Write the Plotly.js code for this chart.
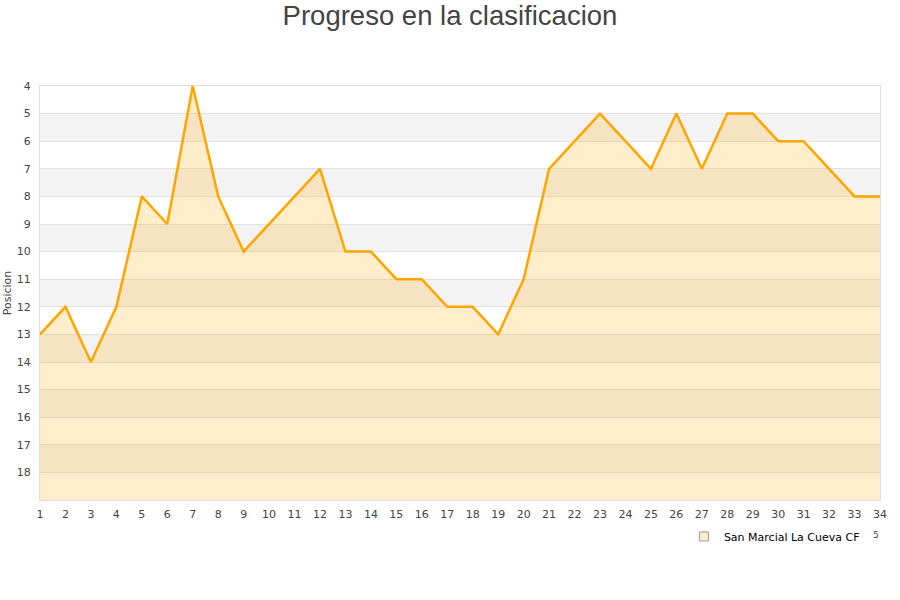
<!DOCTYPE html>
<html><head><meta charset="utf-8">
<script src="https://cdn.plot.ly/plotly-3.0.1.min.js"></script>
<style>body{margin:0;background:#fff}#c{width:900px;height:600px}</style>
</head><body><div id="c"></div>
<script>
const jornadas = [1,2,3,4,5,6,7,8,9,10,11,12,13,14,15,16,17,18,19,20,21,22,23,24,25,26,27,28,29,30,31,32,33,34];
const posiciones = [13,12,14,12,8,9,4,8,10,9,8,7,10,10,11,11,12,12,13,11,7,6,5,6,7,5,7,5,5,6,6,7,8,8];
const teamName = 'San Marcial La Cueva CF';
const yTicks = [4,5,6,7,8,9,10,11,12,13,14,15,16,17,18];
const bandStarts = [5,7,9,11,13,15,17];
const bottomPos = 19;

const baseline = jornadas.map(() => bottomPos);
const shapes = bandStarts.map(b => ({type:'rect', xref:'paper', x0:0, x1:1, yref:'y', y0:b, y1:b+1,
  fillcolor:'#f3f3f3', line:{width:0}, layer:'below'}));

const traces = [
  {x:jornadas, y:baseline, mode:'lines', line:{width:0}, showlegend:false, hoverinfo:'skip'},
  {x:jornadas, y:posiciones, mode:'lines', fill:'tonexty', fillcolor:'rgba(255,165,0,0.2)',
   line:{color:'#ffa500', width:2.5}, showlegend:false, name:teamName},
  {x:[null], y:[null], mode:'markers', name:teamName,
   marker:{symbol:'square', size:9, color:'#ffedcc', line:{color:'#999', width:1}}}
];

const layout = {
  width:900, height:600,
  margin:{l:40, r:20, t:86, b:100},
  paper_bgcolor:'#fff', plot_bgcolor:'#fff',
  font:{family:'DejaVu Sans', size:11, color:'#444'},
  title:{text:'Progreso en la clasificacion', x:0.5, xanchor:'center', y:0.975, yanchor:'middle',
    font:{family:'Liberation Sans, Arial', size:27.5, color:'#444'}},
  xaxis:{range:[1,34], tickvals:jornadas, ticktext:jornadas.map(String), showgrid:false,
    showline:true, linecolor:'#ddd', mirror:true, zeroline:false, ticks:'', fixedrange:true,
    ticklabelstandoff:4, tickfont:{size:11, color:'#444'}},
  yaxis:{range:[bottomPos,4], tickvals:yTicks, ticktext:yTicks.map(String), showgrid:true,
    gridcolor:'#e0e0e0', gridwidth:1, showline:true, linecolor:'#ddd', mirror:true, zeroline:false,
    ticks:'', ticklabelstandoff:6, tickfont:{size:11, color:'#444'},
    title:{text:'Posicion', font:{size:11, color:'#444'}, standoff:2}},
  shapes:shapes,
  showlegend:true,
  legend:{x:0.982, xanchor:'right', y:-0.053, yanchor:'top', orientation:'h',
    font:{size:11, color:'#000'}, bgcolor:'rgba(0,0,0,0)'},
  annotations:[{text:'5', xref:'paper', yref:'paper', x:0.989, y:-0.084, xanchor:'left', yanchor:'middle',
    showarrow:false, font:{size:9, color:'#444'}}]
};
Plotly.newPlot('c', traces, layout, {displayModeBar:false, staticPlot:true});
</script></body></html>
